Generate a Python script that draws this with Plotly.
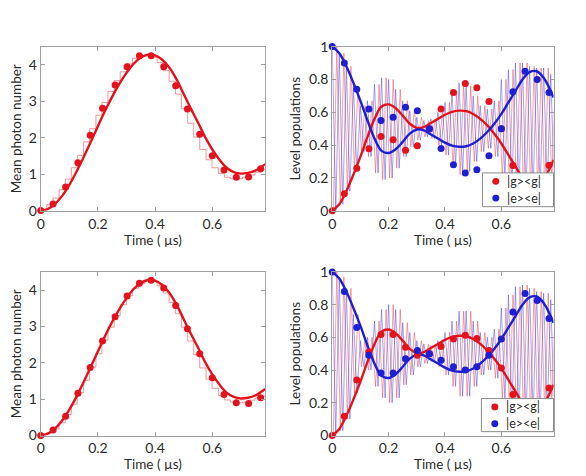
import plotly.graph_objects as go

# ---------------- data ----------------
t_pts = [0, 0.043, 0.087, 0.13, 0.173, 0.216, 0.26, 0.302, 0.345, 0.386,
         0.43, 0.472, 0.513, 0.556, 0.6, 0.641, 0.684, 0.727, 0.769]

n_dots_top = [0.01, 0.185, 0.65, 1.32, 2.07, 2.81, 3.45, 3.95, 4.25, 4.25,
              3.95, 3.43, 2.79, 2.10, 1.51, 1.12, 0.92, 0.93, 1.15]
n_dots_bot = [0.0, 0.15, 0.53, 1.16, 1.87, 2.60, 3.27, 3.84, 4.19, 4.27,
              4.06, 3.58, 2.94, 2.25, 1.59, 1.13, 0.90, 0.88, 1.04]

t_fit = [0, 0.025, 0.05, 0.075, 0.1, 0.125, 0.15, 0.175, 0.2, 0.225, 0.25,
         0.275, 0.3, 0.325, 0.35, 0.375, 0.4, 0.425, 0.45, 0.475, 0.5, 0.525,
         0.55, 0.575, 0.6, 0.625, 0.65, 0.675, 0.7, 0.725, 0.75, 0.785]
n_fit = [0, 0.05, 0.19, 0.41, 0.71, 1.07, 1.47, 1.89, 2.32, 2.74, 3.13,
         3.48, 3.78, 4.03, 4.2, 4.28, 4.26, 4.14, 3.92, 3.6, 3.2, 2.8,
         2.42, 2.02, 1.68, 1.4, 1.18, 1.06, 1.02, 1.04, 1.1, 1.28]

g_fit = [0, 0.04, 0.12, 0.22, 0.33, 0.45, 0.56, 0.635, 0.648, 0.625, 0.58,
         0.53, 0.505, 0.51, 0.535, 0.56, 0.585, 0.603, 0.61, 0.607, 0.59, 0.56,
         0.52, 0.47, 0.41, 0.34, 0.27, 0.2, 0.155, 0.15, 0.19, 0.31]
e_fit = [1, 0.96, 0.88, 0.78, 0.67, 0.55, 0.44, 0.365, 0.352, 0.375, 0.42,
         0.47, 0.495, 0.49, 0.465, 0.44, 0.415, 0.397, 0.39, 0.393, 0.41, 0.44,
         0.48, 0.53, 0.59, 0.66, 0.73, 0.8, 0.845, 0.85, 0.81, 0.69]

# thin staircase traces (mean photon number)
t_step = [0, 0.021, 0.043, 0.064, 0.086, 0.107, 0.128, 0.150, 0.171, 0.193,
          0.214, 0.235, 0.257, 0.278, 0.300, 0.321, 0.342, 0.364, 0.385,
          0.407, 0.428, 0.449, 0.471, 0.492, 0.514, 0.535, 0.556, 0.578,
          0.599, 0.621, 0.642, 0.663, 0.685, 0.706, 0.728, 0.749, 0.770, 0.785]
n_step_top = [0.05, 0.17, 0.35, 0.58, 0.87, 1.18, 1.52, 1.89, 2.25, 2.62,
              2.97, 3.27, 3.57, 3.81, 4.03, 4.18, 4.26, 4.26, 4.2, 4.06,
              3.84, 3.55, 3.2, 2.8, 2.4, 2.02, 1.68, 1.4, 1.18, 1.02,
              0.92, 0.88, 0.88, 0.92, 0.98, 1.06, 1.14, 1.14]
n_step_bot = [0.02, 0.08, 0.18, 0.35, 0.58, 0.86, 1.18, 1.52, 1.88, 2.25,
              2.62, 2.98, 3.3, 3.6, 3.85, 4.05, 4.18, 4.26, 4.24, 4.12,
              3.92, 3.66, 3.35, 2.98, 2.6, 2.22, 1.86, 1.55, 1.3, 1.1,
              0.98, 0.92, 0.9, 0.92, 0.97, 1.03, 1.08, 1.08]

# fast Rabi oscillation of the populations: half-swing about 0.5, one value per cycle
osc_period = 0.025
osc_amp_top = [0.5, 0.46, 0.38, 0.26, 0.14, 0.17, 0.27, 0.31, 0.3, 0.24,
               0.17, 0.11, 0.07, 0.05, 0.06, 0.1, 0.16, 0.23, 0.28, 0.26,
               0.2, 0.14, 0.12, 0.17, 0.3, 0.36, 0.4, 0.4, 0.38, 0.37,
               0.37, 0.33]
osc_amp_bot = [0.5, 0.47, 0.4, 0.24, 0.08, 0.1, 0.2, 0.27, 0.3, 0.27,
               0.19, 0.13, 0.08, 0.06, 0.05, 0.08, 0.13, 0.2, 0.26, 0.26,
               0.2, 0.13, 0.1, 0.15, 0.28, 0.36, 0.41, 0.42, 0.4, 0.38,
               0.37, 0.33]

g_dots_top = [0.0, 0.104, 0.26, 0.378, 0.453, 0.433, 0.369, 0.396, 0.5, 0.62,
              0.72, 0.775, 0.75, 0.665, 0.5, 0.276, 0.15, 0.2, 0.278]
e_dots_top = [1.0, 0.90, 0.74, 0.62, 0.55, 0.57, 0.63, 0.61, 0.5, 0.38,
              0.28, 0.23, 0.25, 0.335, 0.5, 0.725, 0.85, 0.80, 0.72]
g_dots_bot = [0.0, 0.118, 0.34, 0.51, 0.618, 0.618, 0.54, 0.49, 0.5, 0.544,
              0.59, 0.613, 0.593, 0.519, 0.413, 0.25, 0.13, 0.17, 0.29]
e_dots_bot = [1.0, 0.88, 0.66, 0.49, 0.382, 0.382, 0.469, 0.52, 0.50, 0.46,
              0.42, 0.40, 0.42, 0.49, 0.59, 0.755, 0.868, 0.825, 0.715]

legend_labels = ["|g&gt;&lt;g|", "|e&gt;&lt;e|"]

# ---------------- style ----------------
RED = "#e3121c"
BLUE = "#1e1ed2"
THIN_RED = "rgba(235,60,60,0.6)"
THIN_BLUE = "rgba(60,60,235,0.6)"
FONT = "Lato"
TXT = "#2b2b2b"
W, H = 586, 476

fig = go.Figure()


def osc_series(amps, sign, shift):
    xs, ys = [], []
    for k, a in enumerate(amps):
        xs += [(k + shift) * osc_period, (k + 0.5 + shift) * osc_period]
        ys += [0.5 + sign * a, 0.5 - sign * a]
    return xs, ys


def photon_panel(xa, ya, dots, steps):
    fig.add_trace(go.Scatter(x=t_step, y=steps, mode="lines", line_shape="hv",
                             line=dict(color="rgba(235,70,70,0.55)", width=1), xaxis=xa, yaxis=ya,
                             showlegend=False, hoverinfo="skip"))
    fig.add_trace(go.Scatter(x=t_fit, y=n_fit, mode="lines", line_shape="spline",
                             line=dict(color=RED, width=2.4), xaxis=xa, yaxis=ya,
                             showlegend=False))
    fig.add_trace(go.Scatter(x=t_pts, y=dots, mode="markers", cliponaxis=False,
                             marker=dict(color=RED, size=7), xaxis=xa, yaxis=ya,
                             showlegend=False))


def pop_panel(xa, ya, amps, gd, ed):
    xb, yb = osc_series(amps, 1, 0.0)
    xr, yr = osc_series(amps, -1, 0.15)
    fig.add_trace(go.Scatter(x=xr, y=yr, mode="lines",
                             line=dict(color=THIN_RED, width=0.8), xaxis=xa, yaxis=ya,
                             showlegend=False, hoverinfo="skip"))
    fig.add_trace(go.Scatter(x=xb, y=yb, mode="lines",
                             line=dict(color=THIN_BLUE, width=0.8), xaxis=xa, yaxis=ya,
                             showlegend=False, hoverinfo="skip"))
    fig.add_trace(go.Scatter(x=t_fit, y=g_fit, mode="lines", line_shape="spline",
                             line=dict(color=RED, width=2.4), xaxis=xa, yaxis=ya,
                             showlegend=False))
    fig.add_trace(go.Scatter(x=t_fit, y=e_fit, mode="lines", line_shape="spline",
                             line=dict(color=BLUE, width=2.4), xaxis=xa, yaxis=ya,
                             showlegend=False))
    fig.add_trace(go.Scatter(x=t_pts, y=gd, mode="markers", cliponaxis=False,
                             marker=dict(color=RED, size=7), xaxis=xa, yaxis=ya,
                             name=legend_labels[0], showlegend=False))
    fig.add_trace(go.Scatter(x=t_pts, y=ed, mode="markers", cliponaxis=False,
                             marker=dict(color=BLUE, size=7), xaxis=xa, yaxis=ya,
                             name=legend_labels[1], showlegend=False))


photon_panel("x", "y", n_dots_top, n_step_top)
pop_panel("x2", "y2", osc_amp_top, g_dots_top, e_dots_top)
photon_panel("x3", "y3", n_dots_bot, n_step_bot)
pop_panel("x4", "y4", osc_amp_bot, g_dots_bot, e_dots_bot)

xl = [37 / W, 263 / W]
xr_ = [330.5 / W, 553.3 / W]
yt = [(H - 209.3) / H, (H - 39) / H]
yb_ = [(H - 442.3) / H, (H - 272.7) / H]

axis_common = dict(showline=True, mirror="ticks", linecolor="#a0a0a0", linewidth=1,
                   ticks="inside", ticklen=4, tickcolor="#a0a0a0", showgrid=False,
                   zeroline=False, automargin=True,
                   tickfont=dict(family=FONT, size=14, color=TXT))


def xaxis(dom, anchor):
    return dict(domain=dom, anchor=anchor, range=[0, 0.785], tickvals=[0, 0.2, 0.4, 0.6],
                ticktext=["0", "0.2", "0.4", "0.6"],
                title=dict(text="Time ( µs)", standoff=2,
                           font=dict(family=FONT, size=13.5, color=TXT)),
                **axis_common)


def yaxis(dom, anchor, kind):
    if kind == "n":
        d = dict(range=[0, 4.5], tickvals=[0, 1, 2, 3, 4],
                 title=dict(text="Mean photon number", standoff=4,
                            font=dict(family=FONT, size=13.5, color=TXT)))
    else:
        d = dict(range=[0, 1], tickvals=[0, 0.2, 0.4, 0.6, 0.8, 1],
                 ticktext=["0", "0.2", "0.4", "0.6", "0.8", "1"],
                 title=dict(text="Level populations", standoff=5,
                            font=dict(family=FONT, size=13.5, color=TXT)))
    return dict(domain=dom, anchor=anchor, **d, **axis_common)


# compact boxed legends (one per population panel), in pixel positions of the figure
shapes, annots = [], []


def px_x(v):
    return v / W


def px_y(v):
    return 1 - v / H


for (bx0, by0, bx1, by1) in [(481.7, 170, 553.3, 205), (480.7, 404, 553.3, 438.3)]:
    shapes.append(dict(type="rect", xref="paper", yref="paper",
                       x0=px_x(bx0), x1=px_x(bx1), y0=px_y(by1), y1=px_y(by0),
                       line=dict(color="#8a8a8a", width=1), fillcolor="white", layer="above"))
    for i, (col, lab) in enumerate(zip([RED, BLUE], legend_labels)):
        cy = by0 + 8.7 + i * 17.3
        cx = bx0 + 13.5
        shapes.append(dict(type="circle", xref="paper", yref="paper",
                           x0=px_x(cx - 3.5), x1=px_x(cx + 3.5),
                           y0=px_y(cy + 3.5), y1=px_y(cy - 3.5),
                           line=dict(width=0), fillcolor=col, layer="above"))
        annots.append(dict(xref="paper", yref="paper", x=px_x(bx0 + 23), y=px_y(cy),
                           xanchor="left", yanchor="middle", showarrow=False, text=lab,
                           font=dict(family=FONT, size=12.5, color=TXT)))

fig.update_layout(
    width=W, height=H, margin=dict(l=0, r=0, t=0, b=0),
    paper_bgcolor="white", plot_bgcolor="white",
    xaxis=xaxis(xl, "y"), yaxis=yaxis(yt, "x", "n"),
    xaxis2=xaxis(xr_, "y2"), yaxis2=yaxis(yt, "x2", "p"),
    xaxis3=xaxis(xl, "y3"), yaxis3=yaxis(yb_, "x3", "n"),
    xaxis4=xaxis(xr_, "y4"), yaxis4=yaxis(yb_, "x4", "p"),
    shapes=shapes, annotations=annots, showlegend=False,
)

fig.write_html("out.html")
